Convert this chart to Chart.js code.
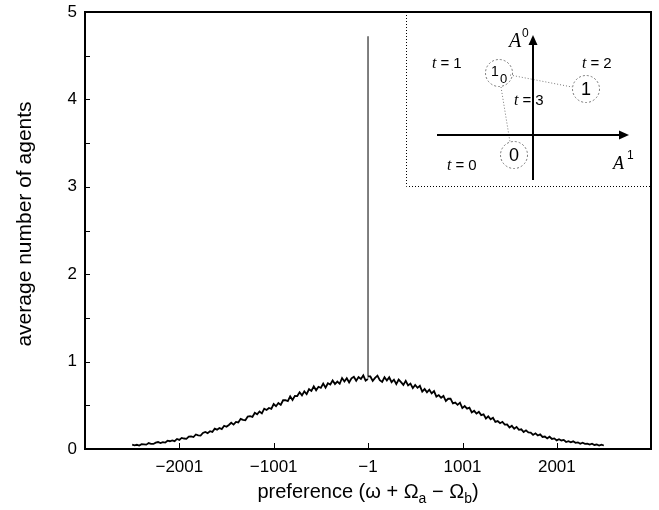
<!DOCTYPE html>
<html>
<head>
<meta charset="utf-8">
<script src="https://cdn.jsdelivr.net/npm/chart.js@4/dist/chart.umd.min.js"></script>
<style>
  body { margin: 0; background: #fff; }
  #wrap { width: 659px; height: 510px; }
</style>
</head>
<body>
<div id="wrap"><canvas id="grafico" width="659" height="510"></canvas></div>
<script>
// preferencias muestreadas cada 25 unidades
const pasoPref = 25;
const inicioIzq = -2501;
const inicioDer = 24;

// lado izquierdo: -2501 .. -26
const valoresIzq = [
  0.049, 0.041, 0.048, 0.040, 0.055, 0.054, 0.050, 0.068, 0.059, 0.058,
  0.073, 0.080, 0.069, 0.079, 0.073, 0.095, 0.089, 0.099, 0.090, 0.115,
  0.104, 0.127, 0.120, 0.116, 0.141, 0.144, 0.137, 0.166, 0.155, 0.154,
  0.183, 0.195, 0.182, 0.203, 0.195, 0.233, 0.221, 0.241, 0.228, 0.266,
  0.254, 0.275, 0.300, 0.279, 0.310, 0.304, 0.345, 0.333, 0.328, 0.371,
  0.375, 0.367, 0.414, 0.397, 0.429, 0.408, 0.461, 0.447, 0.469, 0.460,
  0.515, 0.490, 0.526, 0.505, 0.558, 0.558, 0.548, 0.603, 0.561, 0.608,
  0.606, 0.649, 0.614, 0.660, 0.627, 0.684, 0.665, 0.717, 0.672, 0.712,
  0.700, 0.748, 0.701, 0.752, 0.738, 0.784, 0.743, 0.771, 0.746, 0.812,
  0.772, 0.810, 0.761, 0.808, 0.827, 0.781, 0.823, 0.801, 0.842, 0.783
];

// el pico en -1
const prefsPico = [-2, -1, 0];
const valoresPico = [0.80, 4.72, 0.83];

// lado derecho: 24 .. 2499
const valoresDer = [
  0.830, 0.779, 0.814, 0.839, 0.787, 0.768, 0.821, 0.784, 0.820, 0.765,
  0.793, 0.742, 0.794, 0.765, 0.733, 0.779, 0.728, 0.748, 0.696, 0.733,
  0.700, 0.723, 0.657, 0.686, 0.648, 0.679, 0.636, 0.663, 0.600, 0.617,
  0.586, 0.607, 0.549, 0.575, 0.577, 0.522, 0.531, 0.505, 0.530, 0.468,
  0.491, 0.462, 0.474, 0.418, 0.437, 0.405, 0.426, 0.388, 0.396, 0.349,
  0.373, 0.340, 0.357, 0.310, 0.319, 0.295, 0.311, 0.280, 0.281, 0.245,
  0.265, 0.232, 0.253, 0.220, 0.225, 0.194, 0.213, 0.190, 0.188, 0.161,
  0.179, 0.155, 0.167, 0.138, 0.143, 0.122, 0.140, 0.115, 0.121, 0.099,
  0.112, 0.098, 0.104, 0.080, 0.090, 0.077, 0.088, 0.071, 0.076, 0.059,
  0.071, 0.059, 0.061, 0.050, 0.061, 0.046, 0.051, 0.039, 0.049, 0.040
];

const ticksX = [-2001, -1001, -1, 1001, 2001];
const ticksY = [0, 1, 2, 3, 4, 5];
const ticksYMenores = [0.5, 1.5, 2.5, 3.5, 4.5];

const fuente = '"Liberation Sans", Arial, Helvetica, sans-serif';
const fuenteSerif = '"Liberation Serif", "Times New Roman", serif';

const puntos = [];
valoresIzq.forEach((v, i) => puntos.push({ x: inicioIzq + i * pasoPref, y: v }));
prefsPico.forEach((p, i) => puntos.push({ x: p, y: valoresPico[i] }));
valoresDer.forEach((v, i) => puntos.push({ x: inicioDer + i * pasoPref, y: v }));

function signo(v) {
  return v < 0 ? '\u2212' + Math.abs(v) : String(v);
}

// marco, ticks hacia adentro, titulos y el recuadro del diagrama
const marcoPlugin = {
  id: 'marco',
  afterDraw(chart) {
    const { ctx, chartArea: a, scales } = chart;
    ctx.save();

    ctx.strokeStyle = '#000';
    ctx.lineWidth = 1;
    ticksY.concat(ticksYMenores).forEach(v => {
      const y = Math.round(scales.y.getPixelForValue(v)) + 0.5;
      ctx.beginPath();
      ctx.moveTo(a.left, y);
      ctx.lineTo(a.left + 5, y);
      ctx.stroke();
    });
    ticksX.forEach(v => {
      const x = Math.round(scales.x.getPixelForValue(v)) + 0.5;
      ctx.beginPath();
      ctx.moveTo(x, a.bottom);
      ctx.lineTo(x, a.bottom - 6);
      ctx.stroke();
    });

    ctx.lineWidth = 2;
    ctx.strokeRect(a.left, a.top, a.right - a.left, a.bottom - a.top);

    // titulo eje y
    ctx.fillStyle = '#000';
    ctx.save();
    ctx.translate(25, 224);
    ctx.rotate(-Math.PI / 2);
    ctx.font = '21px ' + fuente;
    ctx.textAlign = 'center';
    ctx.textBaseline = 'middle';
    ctx.fillText('average number of agents', 0, 0);
    ctx.restore();

    // titulo eje x con subindices
    const partes = [
      ['preference (\u03c9 + \u03a9', 20, 0],
      ['a', 14, 5],
      [' \u2212 \u03a9', 20, 0],
      ['b', 14, 5],
      [')', 20, 0]
    ];
    let ancho = 0;
    partes.forEach(p => { ctx.font = p[1] + 'px ' + fuente; ancho += ctx.measureText(p[0]).width; });
    let px = (a.left + a.right) / 2 - ancho / 2;
    const base = 498;
    ctx.textAlign = 'left';
    ctx.textBaseline = 'alphabetic';
    partes.forEach(p => {
      ctx.font = p[1] + 'px ' + fuente;
      ctx.fillText(p[0], px, base + p[2]);
      px += ctx.measureText(p[0]).width;
    });

    // recuadro
    const ox = a.right - 245, oy = a.top;
    ctx.lineWidth = 1;
    ctx.setLineDash([1, 2]);
    ctx.beginPath();
    ctx.moveTo(ox + 0.5, oy);
    ctx.lineTo(ox + 0.5, oy + 174.5);
    ctx.lineTo(a.right, oy + 174.5);
    ctx.stroke();

    // lineas punteadas entre circulos
    ctx.strokeStyle = '#777';
    ctx.beginPath();
    ctx.moveTo(ox + 104, oy + 63); ctx.lineTo(ox + 166, oy + 75);
    ctx.moveTo(ox + 95, oy + 75); ctx.lineTo(ox + 104, oy + 130);
    ctx.stroke();

    // circulos
    ctx.setLineDash([2, 2]);
    [[93, 61], [180, 77], [108, 143]].forEach(c => {
      ctx.beginPath();
      ctx.arc(ox + c[0], oy + c[1], 13.5, 0, Math.PI * 2);
      ctx.stroke();
    });
    ctx.setLineDash([]);

    // ejes A0 / A1
    ctx.strokeStyle = '#000';
    ctx.fillStyle = '#000';
    ctx.lineWidth = 2;
    ctx.beginPath();
    ctx.moveTo(ox + 127, oy + 168); ctx.lineTo(ox + 127, oy + 30);
    ctx.moveTo(ox + 31, oy + 123); ctx.lineTo(ox + 216, oy + 123);
    ctx.stroke();
    ctx.beginPath();
    ctx.moveTo(ox + 127, oy + 23); ctx.lineTo(ox + 122.5, oy + 33); ctx.lineTo(ox + 131.5, oy + 33);
    ctx.closePath(); ctx.fill();
    ctx.beginPath();
    ctx.moveTo(ox + 223, oy + 123); ctx.lineTo(ox + 213, oy + 118.5); ctx.lineTo(ox + 213, oy + 127.5);
    ctx.closePath(); ctx.fill();

    ctx.textAlign = 'left';
    ctx.textBaseline = 'alphabetic';
    ctx.font = 'italic 20px ' + fuenteSerif;
    ctx.fillText('A', ox + 103, oy + 35);
    ctx.font = '12px ' + fuente;
    ctx.fillText('0', ox + 116, oy + 25);
    ctx.font = 'italic 18px ' + fuenteSerif;
    ctx.fillText('A', ox + 207, oy + 157);
    ctx.font = '12px ' + fuente;
    ctx.fillText('1', ox + 221, oy + 147);

    // etiquetas de tiempo
    [['1', 26, 56], ['2', 176, 56], ['3', 108, 93], ['0', 41, 158]].forEach(t => {
      let tx = ox + t[1];
      ctx.font = 'italic 16px ' + fuenteSerif;
      ctx.fillText('t', tx, oy + t[2]);
      tx += ctx.measureText('t ').width;
      ctx.font = '15px ' + fuente;
      ctx.fillText('= ' + t[0], tx, oy + t[2]);
    });

    // numeros de los circulos
    ctx.font = '14px ' + fuente;
    ctx.fillText('1', ox + 85, oy + 64);
    ctx.font = '13px ' + fuente;
    ctx.fillText('0', ox + 94, oy + 71);
    ctx.textAlign = 'center';
    ctx.textBaseline = 'middle';
    ctx.font = '18px ' + fuente;
    ctx.fillText('1', ox + 180, oy + 78);
    ctx.fillText('0', ox + 108, oy + 144);

    ctx.restore();
  }
};

const ctx = document.getElementById('grafico').getContext('2d');
new Chart(ctx, {
  type: 'line',
  data: {
    datasets: [{
      data: puntos,
      borderColor: '#000',
      borderWidth: 1.8,
      pointRadius: 0,
      tension: 0,
      fill: false,
      segment: {
        borderColor: c => (c.p0.parsed.y > 2 || c.p1.parsed.y > 2) ? '#777' : '#000',
        borderWidth: c => (c.p0.parsed.y > 2 || c.p1.parsed.y > 2) ? 1 : 1.8
      }
    }]
  },
  options: {
    responsive: false,
    animation: false,
    devicePixelRatio: 1,
    layout: { padding: { top: 12, right: 8, left: 0, bottom: 0 } },
    plugins: {
      legend: { display: false },
      tooltip: { enabled: false }
    },
    scales: {
      x: {
        type: 'linear',
        min: -3001,
        max: 2999,
        grid: { display: false, drawTicks: false },
        border: { display: false },
        afterBuildTicks: s => { s.ticks = ticksX.map(v => ({ value: v })); },
        afterFit: s => { s.height = 61; s.paddingLeft = 0; s.paddingRight = 0; },
        ticks: {
          autoSkip: false,
          maxRotation: 0,
          padding: 8,
          color: '#000',
          font: { family: fuente, size: 17 },
          callback: v => signo(v)
        }
      },
      y: {
        min: 0,
        max: 5,
        grid: { display: false, drawTicks: false },
        border: { display: false },
        afterBuildTicks: s => { s.ticks = ticksY.map(v => ({ value: v })); },
        afterFit: s => { s.width = 85; s.paddingTop = 0; s.paddingBottom = 0; },
        ticks: {
          padding: 8,
          color: '#000',
          font: { family: fuente, size: 17 }
        }
      }
    }
  },
  plugins: [marcoPlugin]
});
</script>
</body>
</html>
